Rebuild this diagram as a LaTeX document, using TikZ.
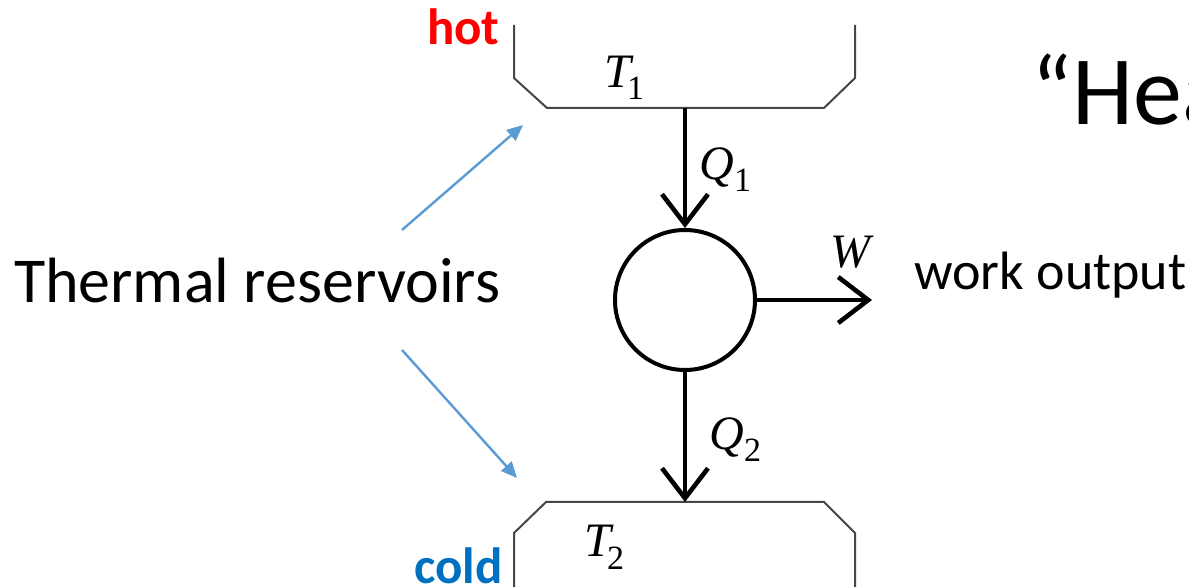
\documentclass[tikz,border=0pt]{standalone}
\usepackage{fontspec}
\setmainfont{Carlito}
\newfontfamily\tms{Liberation Serif}
\usetikzlibrary{arrows.meta}
\definecolor{hotred}{RGB}{255,0,0}
\definecolor{coldblue}{RGB}{0,112,192}
\definecolor{pointblue}{RGB}{91,155,213}
\definecolor{resgray}{RGB}{70,70,70}
\newcommand{\mlab}[3]{{\tms\fontsize{24}{24}\selectfont\itshape #1}\kern#3{\tms\fontsize{17}{17}\selectfont\raisebox{-6pt}{#2}}}
\tikzset{
  reservoir/.style={draw=resgray, line width=1pt, line join=miter},
  flow/.style={draw=black, line width=2.3pt, -{Straight Barb[length=15pt,width=23pt,line width=2.3pt]}},
  pointer/.style={draw=pointblue, line width=1.2pt, -{Triangle[length=8pt,width=7pt]}},
  mathlab/.style={inner sep=0pt, anchor=base west},
  bigtext/.style={inner sep=0pt, font=\fontsize{32}{38}\selectfont},
  smalltext/.style={inner sep=0pt, font=\fontsize{27}{32}\selectfont},
  tag/.style={inner sep=0pt, anchor=base east, font=\fontsize{25.5}{30}\selectfont\bfseries},
}
\begin{document}
\begin{tikzpicture}[x=0.5pt, y=-0.5pt]
\useasboundingbox (0,0) rectangle (1189,587);
\clip (0,0) rectangle (1189,587);
% hot reservoir
\draw[reservoir] (514,25) -- (514,78) -- (547,108) -- (824,108) -- (855,78) -- (855,25);
\coordinate (hotb) at (685,108);
% cold reservoir
\draw[reservoir] (514,600) -- (514,533) -- (546,502) -- (824,502) -- (855,533) -- (855,600);
\coordinate (coldt) at (685,502);
% engine
\node[circle, draw=black, line width=2pt, minimum size=70pt, inner sep=0pt] (engine) at (685,300) {};
\coordinate (wend) at (872,300);
\draw[flow] (hotb) -- (engine.north);
\draw[flow] (engine.south) -- (coldt);
\draw[flow] (engine.east) -- (wend);
% math labels
\node[mathlab] (t1) at (604,88) {\mlab{T}{1}{-2pt}};
\node[mathlab] (t2) at (584,557) {\mlab{T}{2}{-2pt}};
\node[mathlab] (q1) at (699,180) {\mlab{Q}{1}{0pt}};
\node[mathlab] (q2) at (709,450) {\mlab{Q}{2}{0pt}};
\node[mathlab] (w) at (830,268) {{\tms\fontsize{24}{24}\selectfont\itshape W}};
% texts
\node[bigtext, anchor=base] (thermal) at (257,303) {Thermal reservoirs};
\node[smalltext, anchor=base west] (work) at (914,290) {work output};
\node[tag, text=hotred] (hot) at (500,45) {hot};
\node[tag, text=coldblue] (cold) at (503,583) {cold};
\node[inner sep=0pt, anchor=base west, font=\fontsize{49}{58}\selectfont] (title) at (1031,125) {“Hea};
% pointers
\coordinate (p1s) at (402,230);
\coordinate (p1e) at (523,125);
\coordinate (p2s) at (402,350);
\coordinate (p2e) at (517,478);
\draw[pointer] (p1s) -- (p1e);
\draw[pointer] (p2s) -- (p2e);
\end{tikzpicture}
\end{document}
